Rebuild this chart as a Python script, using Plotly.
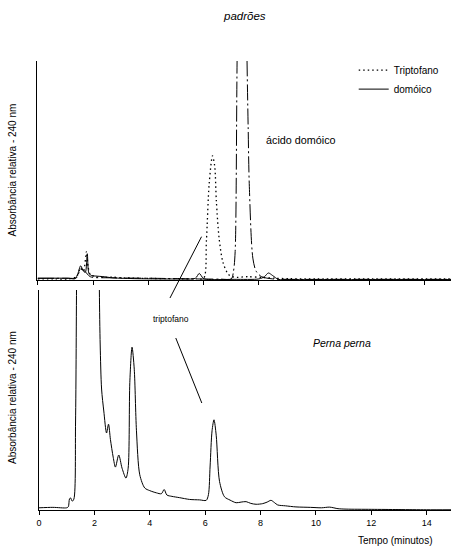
import plotly.graph_objects as go

# ---- data (time in minutes, relative absorbance) ----
# top panel: standards
trp_t = [0, 0.6, 1.1, 1.4, 1.55, 1.65, 1.76, 1.82, 1.9, 2.1, 2.4, 2.7, 3.1, 4.1, 5.1, 5.7, 6.0,
         6.1, 6.2, 6.32, 6.4, 6.46, 6.56, 6.7, 6.9, 7.1, 7.6, 8.1, 8.6, 9.1, 10.1, 12.1, 14.95]
trp_y = [0.5, 0.5, 0.5, 1.5, 5.5, 4, 13, 6, 2.5, 1.5, 1.2, 1.3, 1, 0.7, 0.6, 0.5, 0.8,
         18, 44, 56.7, 52, 36, 19, 8, 2.5, 1.3, 1.5, 1.2, 0.8, 0.6, 0.5, 0.5, 0.5]

dom_t = [0, 1.1, 1.4, 1.55, 1.7, 1.9, 2.6, 4.1, 5.6, 6.6, 7.0, 7.08, 7.14, 7.21, 7.39, 7.57,
         7.61, 7.65, 7.78, 7.9, 8.1, 8.5, 9.1, 11.1, 14.95]
dom_y = [0.8, 0.8, 1, 5, 4, 1.5, 1, 0.8, 0.5, 0.4, 0.5, 4, 13, 100, 300, 100,
         70, 44, 10, 4, 1.5, 0.5, 0.3, 0.3, 0.3]

sol_t = [0, 1.1, 1.35, 1.45, 1.55, 1.65, 1.72, 1.79, 1.85, 1.95, 2.1, 2.4, 2.7, 3.6, 5.1,
         5.7, 5.84, 5.98, 6.1, 7.1, 8.0, 8.2, 8.34, 8.5, 8.7, 9.1, 12.1, 14.95]
sol_y = [0.8, 0.8, 0.6, 3, 6.5, 4, 3.5, 12, 3, 2, 1.8, 1.5, 1.0, 0.6, 0.5,
         0.8, 3, 0.8, 0.3, 0.3, 0.5, 1.5, 3.2, 2, 0.3, 0.2, 0.2, 0.2]

# bottom panel: Perna perna extract
pp_t = [0, 0.5, 1.0, 1.06, 1.1, 1.14, 1.2, 1.26, 1.32, 1.36, 1.42, 1.6, 1.8, 2.0, 2.14, 2.18,
        2.21, 2.26, 2.34, 2.44, 2.51, 2.58, 2.68, 2.76, 2.88, 3.0, 3.14, 3.22, 3.28, 3.36,
        3.44, 3.52, 3.64, 3.82, 4.0, 4.24, 4.42, 4.52, 4.62, 4.8, 5.08, 5.44, 5.8, 6.04,
        6.12, 6.18, 6.25, 6.32, 6.4, 6.52, 6.7, 6.9, 7.12, 7.3, 7.48, 7.65, 7.84, 8.08,
        8.24, 8.38, 8.5, 8.62, 8.9, 9.28, 9.8, 10.2, 10.5, 10.8, 11.09, 12, 13, 14, 14.88]
pp_y = [1, 1.2, 1, 1.5, 5, 5.5, 4, 5, 40, 110, 200, 300, 300, 300, 200, 100,
        75, 55, 45, 35, 39, 32, 24, 19.5, 25, 19, 14.5, 19, 58, 74,
        64, 36, 16, 10, 8.8, 7.8, 7.4, 9.3, 6.8, 6.2, 5.6, 4.8, 4.6, 4.4,
        7, 20, 36, 41, 34, 13, 6, 4.5, 3.3, 3.6, 3.8, 3, 2.6, 2.9,
        3.6, 4.4, 3.4, 2.3, 1.9, 1.4, 1.2, 1.0, 1.3, 0.6, 0.4, 0.3, 0.2, 0.1, 0.1]

x_ticks = [0, 2, 4, 6, 8, 10, 12, 14]

FONT = "Liberation Sans, Arial, sans-serif"
LW = 1.0

fig = go.Figure()
fig.add_trace(go.Scatter(x=trp_t, y=trp_y, mode="lines", name="Triptofano",
                         line=dict(color="black", width=1.3, dash="1.5px,3px", shape="spline", smoothing=0.8),
                         xaxis="x", yaxis="y"))
fig.add_trace(go.Scatter(x=sol_t, y=sol_y, mode="lines", name="domóico",
                         line=dict(color="black", width=LW, shape="spline", smoothing=0.8),
                         xaxis="x", yaxis="y"))
fig.add_trace(go.Scatter(x=dom_t, y=dom_y, mode="lines", name="ácido domóico", showlegend=False,
                         line=dict(color="black", width=LW, dash="16px,3px,2px,3px", shape="spline", smoothing=0.8),
                         xaxis="x", yaxis="y"))
fig.add_trace(go.Scatter(x=pp_t, y=pp_y, mode="lines", name="Perna perna", showlegend=False,
                         line=dict(color="black", width=LW, shape="spline", smoothing=0.8),
                         xaxis="x2", yaxis="y2"))

axis_common = dict(showline=True, linecolor="black", linewidth=1, showgrid=False,
                   zeroline=False, mirror=False)

W, H = 451, 555
L, R, T, B = 37, 0, 61, 45
PW = W - L - R
PH = H - T - B

fig.update_layout(
    width=W, height=H,
    margin=dict(l=L, r=R, t=T, b=B),
    paper_bgcolor="white", plot_bgcolor="white",
    font=dict(family=FONT, color="black", size=10),
    showlegend=True,
    legend=dict(x=0.765, y=1.012, xanchor="left", yanchor="top",
                font=dict(size=10, family=FONT), bgcolor="rgba(0,0,0,0)",
                tracegroupgap=0),
    xaxis=dict(domain=[0, 1], range=[-0.03, 14.95], anchor="y",
               tickvals=x_ticks, ticks="outside", ticklen=4, tickcolor="black",
               showticklabels=False, **axis_common),
    yaxis=dict(domain=[(H - B - 280) / PH, 1], range=[0, 100], anchor="x",
               showticklabels=False, ticks="", **axis_common),
    xaxis2=dict(domain=[2 / PW, 1], range=[0, 14.88], anchor="y2",
                tickvals=x_ticks, ticks="outside", ticklen=4, tickcolor="black",
                tickfont=dict(size=9, family=FONT), **axis_common),
    yaxis2=dict(domain=[0, (H - B - 290) / PH], range=[0, 100], anchor="x2",
                showticklabels=False, ticks="", **axis_common),
)


def px_x(p):
    return (p - L) / PW


def px_y(p):
    return (H - B - p) / PH


ann = []
ann.append(dict(text="<i>padrões</i>", xref="paper", yref="paper",
                x=px_x(244.7), y=px_y(16), xanchor="center", yanchor="middle",
                showarrow=False, font=dict(size=11.5)))
ann.append(dict(text="ácido domóico", xref="x", yref="y", x=8.18, y=64,
                xanchor="left", yanchor="middle", showarrow=False, font=dict(size=10.8)))
ann.append(dict(text="triptofano", xref="x2", yref="y2", x=4.77, y=87,
                xanchor="center", yanchor="middle", showarrow=False, font=dict(size=8.5)))
ann.append(dict(text="<i>Perna perna</i>", xref="x2", yref="y2", x=10.95, y=76,
                xanchor="center", yanchor="middle", showarrow=False, font=dict(size=10.5)))
ann.append(dict(text="Tempo (minutos)", xref="paper", yref="paper",
                x=px_x(394.5), y=px_y(540), xanchor="center", yanchor="middle",
                showarrow=False, font=dict(size=10)))
for yc in (170.5, 398):
    ann.append(dict(text="Absorbância relativa - 240 nm", xref="paper", yref="paper",
                    x=px_x(12), y=px_y(yc), textangle=-90, xanchor="center", yanchor="middle",
                    showarrow=False, font=dict(size=10)))
fig.update_layout(annotations=ann)

# pointer lines from the label "triptofano" to the peaks
fig.add_shape(type="line", xref="x2", yref="paper", x0=5.87, y0=px_y(236.7), x1=4.73, y1=px_y(298),
              line=dict(color="black", width=1))
fig.add_shape(type="line", xref="x2", yref="paper", x0=4.94, y0=px_y(338), x1=5.88, y1=px_y(403),
              line=dict(color="black", width=1))

fig.write_html("out.html", config={"displayModeBar": False},
               post_script="document.body.style.margin='0';")
